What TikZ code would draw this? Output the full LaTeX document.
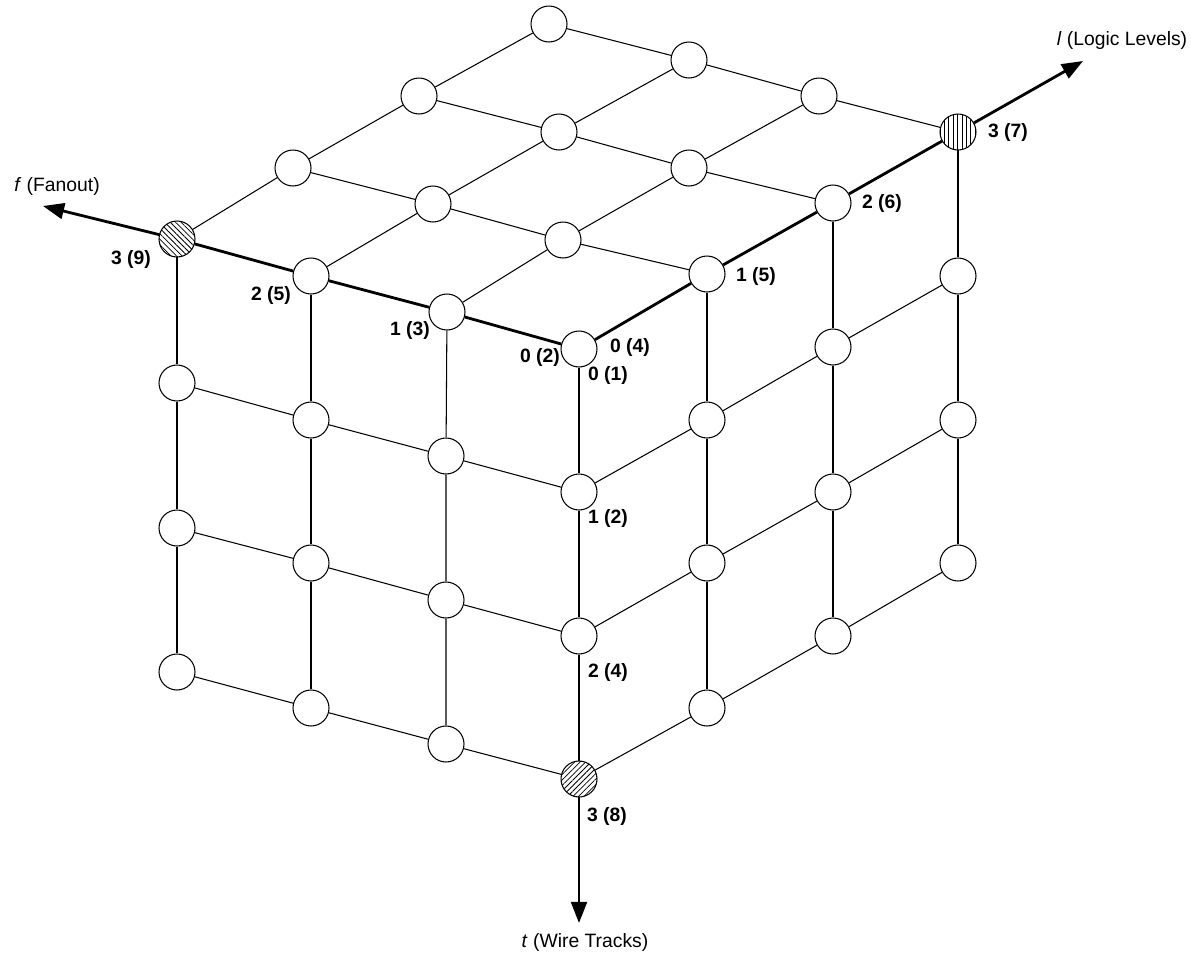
\documentclass[tikz,border=0pt]{standalone}
\usepackage{fontspec}
\setmainfont{Liberation Sans}
\usetikzlibrary{arrows.meta,patterns.meta}
\begin{document}
\begin{tikzpicture}[x=0.02cm,y=-0.02cm,
  v/.style={circle,draw,fill=white,line width=0.6pt,minimum size=0.72cm,inner sep=0pt},
  e/.style={line width=0.6pt},
  ax/.style={line width=1.6pt},
  axarrow/.style={line width=1.6pt,-{Triangle[length=12pt,width=9pt]}},
  num/.style={inner sep=0pt,font=\fontsize{11}{13}\selectfont\bfseries},
  axlbl/.style={inner sep=0pt,font=\fontsize{11}{13}\selectfont},
  hatchA/.style={pattern={Lines[angle=-45,distance=2.2pt,line width=0.45pt]}},
  hatchB/.style={pattern={Lines[angle=45,distance=2.2pt,line width=0.45pt]}},
  hatchC/.style={pattern={Lines[angle=90,distance=2.5pt,line width=0.45pt]}},
]
\useasboundingbox (0,0) rectangle (1191,954);

% top face (t=0): T<f><l>
\node[v] (T00) at (579,349) {};
\node[v] (T10) at (447,312) {};
\node[v] (T20) at (311,276) {};
\node[v,hatchA] (T30) at (177,239) {};
\node[v] (T01) at (707,274) {};
\node[v] (T11) at (563,240) {};
\node[v] (T21) at (433,204) {};
\node[v] (T31) at (293,168) {};
\node[v] (T02) at (833,203) {};
\node[v] (T12) at (689,168) {};
\node[v] (T22) at (559,132) {};
\node[v] (T32) at (419,96) {};
\node[v,hatchC] (T03) at (958,132) {};
\node[v] (T13) at (819,96) {};
\node[v] (T23) at (689,60) {};
\node[v] (T33) at (549,24) {};

% left face (l=0): L<f><t>
\node[v] (L01) at (579,492) {};
\node[v] (L02) at (579,636) {};
\node[v,hatchB] (L03) at (579,779) {};
\node[v] (L11) at (446,456) {};
\node[v] (L12) at (446,600) {};
\node[v] (L13) at (446,744) {};
\node[v] (L21) at (311,420) {};
\node[v] (L22) at (311,563) {};
\node[v] (L23) at (311,708) {};
\node[v] (L31) at (177,383) {};
\node[v] (L32) at (177,528) {};
\node[v] (L33) at (177,672) {};

% right face (f=0): R<l><t>
\node[v] (R11) at (707,420) {};
\node[v] (R12) at (707,563) {};
\node[v] (R13) at (707,708) {};
\node[v] (R21) at (833,347) {};
\node[v] (R22) at (833,492) {};
\node[v] (R23) at (833,636) {};
\node[v] (R31) at (958,276) {};
\node[v] (R32) at (958,420) {};
\node[v] (R33) at (958,563) {};

% top face edges
\foreach \f in {1,2,3} {
  \draw[e] (T\f0) -- (T\f1) -- (T\f2) -- (T\f3);
}
\foreach \l in {1,2,3} {
  \draw[e] (T0\l) -- (T1\l) -- (T2\l) -- (T3\l);
}
% left face edges
\foreach \f in {1,2,3} {
  \draw[e] (T\f0) -- (L\f1) -- (L\f2) -- (L\f3);
}
\foreach \t in {1,2,3} {
  \draw[e] (L0\t) -- (L1\t) -- (L2\t) -- (L3\t);
}
% right face edges
\foreach \l in {1,2,3} {
  \draw[e] (T0\l) -- (R\l1) -- (R\l2) -- (R\l3);
}
\foreach \t in {1,2,3} {
  \draw[e] (L0\t) -- (R1\t) -- (R2\t) -- (R3\t);
}

% axes
\coordinate (fTip) at (43,206);
\coordinate (lTip) at (1083,61);
\coordinate (tTip) at (579,923);
\draw[ax] (T00) -- (T10) -- (T20) -- (T30);
\draw[ax] (T00) -- (T01) -- (T02) -- (T03);
\draw[ax] (T00) -- (L01) -- (L02) -- (L03);
\draw[axarrow] (T30) -- (fTip);
\draw[axarrow] (T03) -- (lTip);
\draw[axarrow] (L03) -- (tTip);

% labels
\node[num] (a39) at (131,259) {3 (9)};
\node[num] (a25) at (271,295) {2 (5)};
\node[num] (a13) at (410,330) {1 (3)};
\node[num] (a02) at (540,357) {0 (2)};
\node[num] (a04) at (630,347) {0 (4)};
\node[num] (a01) at (608,375) {0 (1)};
\node[num] (a12) at (608,518) {1 (2)};
\node[num] (a24) at (608,672) {2 (4)};
\node[num] (a38) at (607,816) {3 (8)};
\node[num] (a15) at (756,276) {1 (5)};
\node[num] (a26) at (882,203) {2 (6)};
\node[num] (a37) at (1008,132) {3 (7)};
\node[axlbl] (lname) at (1122,41) {\textit{l} (Logic Levels)};
\node[axlbl] (fname) at (57,186) {\textit{f} (Fanout)};
\node[axlbl] (tname) at (585,942) {\textit{t} (Wire Tracks)};
\end{tikzpicture}
\end{document}
